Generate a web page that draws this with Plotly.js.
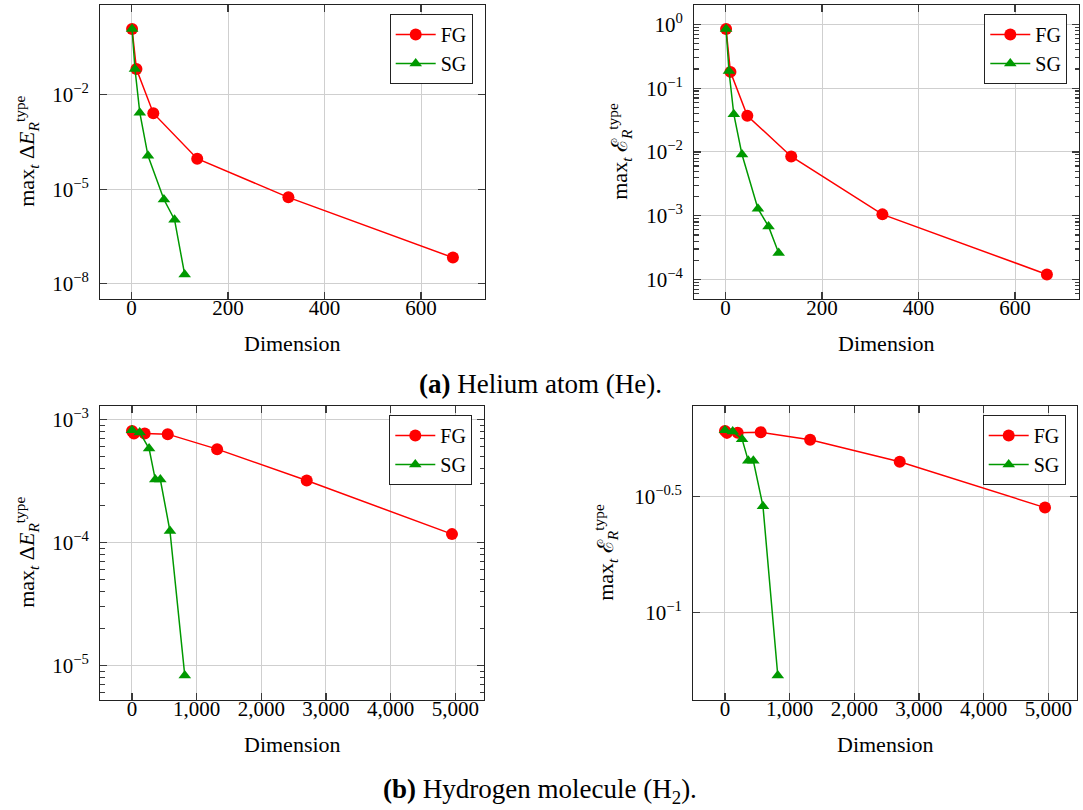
<!DOCTYPE html>
<html><head><meta charset="utf-8">
<script src="https://cdn.plot.ly/plotly-3.0.1.min.js"></script>
<style>html,body{margin:0;padding:0;background:#fff}#chart{width:1083px;height:810px}</style>
</head><body><div id="chart"></div>
<script>
// ---- data ----
const seriesNames = ['FG', 'SG'];
const heFgDim = [1, 10, 45, 136, 325, 666];
const heSgDim = [1, 7, 17, 34, 67, 89, 110];
const heFgEnergy = [1.23, 0.066, 2.6e-3, 9.3e-5, 5.5e-6, 6.7e-8];
const heSgEnergy = [1.23, 0.066, 2.7e-3, 1.15e-4, 4.7e-6, 1.07e-6, 1.95e-8];
const heFgError = [0.845, 0.18, 0.037, 0.0085, 1.05e-3, 1.2e-4];
const heSgError = [0.845, 0.186, 0.039, 0.0091, 1.29e-3, 6.8e-4, 2.6e-4];
const h2FgDim = [1, 31, 197, 553, 1317, 2702, 4948];
const h2SgDim = [1, 120, 265, 361, 439, 588, 817];
const h2FgEnergy = [8.07e-4, 7.7e-4, 7.7e-4, 7.6e-4, 5.74e-4, 3.19e-4, 1.17e-4];
const h2SgEnergy = [8.18e-4, 7.84e-4, 5.8e-4, 3.25e-4, 3.25e-4, 1.24e-4, 8.3e-6];
const h2FgError = [0.609, 0.597, 0.598, 0.601, 0.557, 0.448, 0.284];
const h2SgError = [0.613, 0.605, 0.561, 0.452, 0.452, 0.288, 0.0535];

const heXTicks = [0, 200, 400, 600];
const heXLabels = ['0', '200', '400', '600'];
const h2XTicks = [0, 1000, 2000, 3000, 4000, 5000];
const h2XLabels = ['0', '1,000', '2,000', '3,000', '4,000', '5,000'];
const heEnergyYTicks = [1e-8, 1e-5, 1e-2];
const heEnergyYLabels = ['10<sup>−8</sup>', '10<sup>−5</sup>', '10<sup>−2</sup>'];
const heErrorYTicks = [1e-4, 1e-3, 1e-2, 1e-1, 1];
const heErrorYLabels = ['10<sup>−4</sup>', '10<sup>−3</sup>', '10<sup>−2</sup>', '10<sup>−1</sup>', '10<sup>0</sup>'];
const h2EnergyYTicks = [1e-5, 1e-4, 1e-3];
const h2EnergyYLabels = ['10<sup>−5</sup>', '10<sup>−4</sup>', '10<sup>−3</sup>'];
const h2ErrorYTicks = [0.1, Math.pow(10, -0.5)];
const h2ErrorYLabels = ['10<sup>−1</sup>', '10<sup>−0.5</sup>'];

const yTitleEnergy = 'max<sub><i>t</i></sub> Δ<i>E</i><sub><i>R</i></sub><sup>type</sup>';
const yTitleError = 'max<sub><i>t</i></sub> ℰ<sub><i>R</i></sub><sup>type</sup>';
const xTitle = 'Dimension';
const captionA = '<b>(a)</b> Helium atom (He).';
const captionB = '<b>(b)</b> Hydrogen molecule (H<sub>2</sub>).';

// ---- styling ----
const W = 1083, H = 810;
const FONT = "'Liberation Serif', 'Times New Roman', serif";
const RED = '#ff0000', GREEN = '#009900';
const TICKC = '#3a3a3a';

function dx(a, b) { return [a / W, b / W]; }
function dy(top, bot) { return [1 - bot / H, 1 - top / H]; }
function enlarge(lo, hi) { const d = hi - lo; return [lo - 0.1 * d, hi + 0.1 * d]; }
function xr(a, b) { const all = a.concat(b); return enlarge(Math.min(...all), Math.max(...all)); }
function yr(a, b) { const all = a.concat(b).map(v => Math.log10(v)); return enlarge(Math.min(...all), Math.max(...all)); }
function minorVals(range) {
  const out = [];
  for (let k = Math.floor(range[0]) - 1; k <= Math.ceil(range[1]); k++)
    for (let m = 2; m <= 9; m++) out.push(m * Math.pow(10, k));
  return out;
}

const panels = [
  {xd: dx(100, 485), yd: dy(4.5, 299), fx: heFgDim, sx: heSgDim, fy: heFgEnergy, sy: heSgEnergy,
   xt: heXTicks, xl: heXLabels, yt: heEnergyYTicks, yl: heEnergyYLabels, minor: false,
   leg: [472.7, 14], ytitle: yTitleEnergy, ytx: 27},
  {xd: dx(694, 1079), yd: dy(4.5, 299), fx: heFgDim, sx: heSgDim, fy: heFgError, sy: heSgError,
   xt: heXTicks, xl: heXLabels, yt: heErrorYTicks, yl: heErrorYLabels, minor: true,
   leg: [1067.3, 14], ytitle: yTitleError, ytx: 620},
  {xd: dx(100, 484), yd: dy(405.7, 700), fx: h2FgDim, sx: h2SgDim, fy: h2FgEnergy, sy: h2SgEnergy,
   xt: h2XTicks, xl: h2XLabels, yt: h2EnergyYTicks, yl: h2EnergyYLabels, minor: true,
   leg: [472.3, 415], ytitle: yTitleEnergy, ytx: 27},
  {xd: dx(693, 1077), yd: dy(405.7, 700), fx: h2FgDim, sx: h2SgDim, fy: h2FgError, sy: h2SgError,
   xt: h2XTicks, xl: h2XLabels, yt: h2ErrorYTicks, yl: h2ErrorYLabels, minor: false,
   leg: [1065.7, 415], ytitle: yTitleError, ytx: 606},
];

const data = [];
const layout = {
  width: W, height: H, margin: {l: 0, r: 0, t: 0, b: 0},
  paper_bgcolor: '#fff', plot_bgcolor: '#fff',
  font: {family: FONT, size: 21, color: '#000'},
  showlegend: true, annotations: []
};

let extraAxis = 5;
panels.forEach((p, i) => {
  const n = i === 0 ? '' : String(i + 1);
  const legName = 'legend' + n;
  const yRange = yr(p.fy, p.sy);
  const common = {showline: true, linecolor: '#222', linewidth: 1, mirror: 'ticks',
    ticks: 'inside', ticklen: 7, tickcolor: TICKC, tickwidth: 1.3,
    showgrid: true, gridcolor: '#cfcfcf', gridwidth: 1, zeroline: false,
    tickfont: {family: FONT, size: 21, color: '#000'}, tickmode: 'array'};
  if (p.minor) {
    // overlay axis carrying the minor log ticks
    const m = String(extraAxis++);
    layout['yaxis' + m] = {overlaying: 'y' + n, anchor: 'x' + n, type: 'log', range: yRange,
      tickmode: 'array', tickvals: minorVals(yRange), showticklabels: false,
      ticks: 'inside', ticklen: 4.5, tickcolor: TICKC, tickwidth: 1.2,
      showgrid: false, zeroline: false, showline: true, linecolor: '#222', mirror: 'ticks'};
    data.push({x: p.sx, y: p.sy, xaxis: 'x' + n, yaxis: 'y' + m, type: 'scatter', mode: 'markers',
      marker: {opacity: 0, size: 1}, showlegend: false, hoverinfo: 'skip'});
  }
  data.push({x: p.fx, y: p.fy, name: seriesNames[0], type: 'scatter', mode: 'lines+markers',
    xaxis: 'x' + n, yaxis: 'y' + n, legend: legName,
    line: {color: RED, width: 1.5}, marker: {symbol: 'circle', size: 12, color: RED}});
  data.push({x: p.sx, y: p.sy, name: seriesNames[1], type: 'scatter', mode: 'lines+markers',
    xaxis: 'x' + n, yaxis: 'y' + n, legend: legName,
    line: {color: GREEN, width: 1.5}, marker: {symbol: 'triangle-up', size: 11, color: GREEN}});
  layout['xaxis' + n] = Object.assign({}, common, {domain: p.xd, anchor: 'y' + n,
    range: xr(p.fx, p.sx), tickvals: p.xt, ticktext: p.xl, ticklabelstandoff: -10});
  layout['yaxis' + n] = Object.assign({}, common, {domain: p.yd, anchor: 'x' + n, type: 'log',
    range: yRange, tickvals: p.yt, ticktext: p.yl, ticklabelstandoff: 6});
  layout[legName] = {x: p.leg[0] / W, xanchor: 'right', y: 1 - p.leg[1] / H, yanchor: 'top',
    bgcolor: '#fff', bordercolor: '#222', borderwidth: 1,
    font: {family: FONT, size: 20, color: '#000'}, tracegroupgap: 0, itemwidth: 40};
  const xmid = (p.xd[0] + p.xd[1]) / 2;
  const ymid = (p.yd[0] + p.yd[1]) / 2;
  layout.annotations.push({text: xTitle, x: xmid, y: p.yd[0] - 44 / H, xref: 'paper', yref: 'paper',
    xanchor: 'center', yanchor: 'middle', showarrow: false, font: {family: FONT, size: 22}});
  layout.annotations.push({text: p.ytitle, x: p.ytx / W, y: ymid, xref: 'paper', yref: 'paper',
    xanchor: 'center', yanchor: 'middle', textangle: -90, showarrow: false, font: {family: FONT, size: 22}});
});

layout.annotations.push({text: captionA, x: 540 / W, y: 1 - 384 / H, xref: 'paper', yref: 'paper',
  xanchor: 'center', yanchor: 'middle', showarrow: false, font: {family: FONT, size: 27}});
layout.annotations.push({text: captionB, x: 540 / W, y: 1 - 791 / H, xref: 'paper', yref: 'paper',
  xanchor: 'center', yanchor: 'middle', showarrow: false, font: {family: FONT, size: 27}});

Plotly.newPlot('chart', data, layout, {displayModeBar: false, staticPlot: true});
</script></body></html>
